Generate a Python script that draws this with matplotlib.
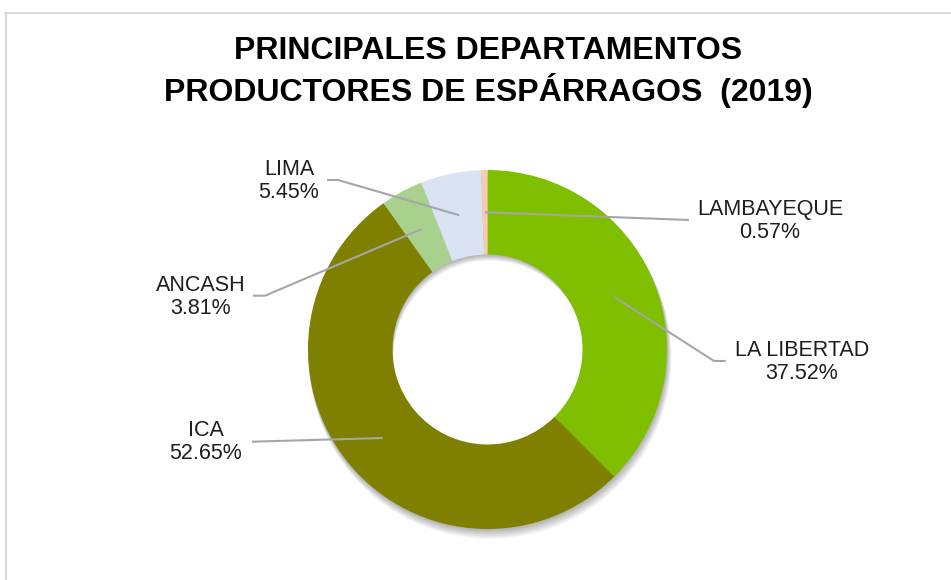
import numpy as np
import matplotlib
matplotlib.use("Agg")
import matplotlib.pyplot as plt
from matplotlib.patches import Wedge
from matplotlib.lines import Line2D

# ---- data ----
departamentos = ["LA LIBERTAD", "ICA", "ANCASH", "LIMA", "LAMBAYEQUE"]
porcentajes = [37.52, 52.65, 3.81, 5.45, 0.57]
colores = ["#7fbf00", "#808000", "#a9d18e", "#dae3f3", "#f8cbad"]
titulo = "PRINCIPALES DEPARTAMENTOS\nPRODUCTORES DE ESPÁRRAGOS  (2019)"

W, H = 951, 580
fig = plt.figure(figsize=(W / 100, H / 100), dpi=100)
fig.patch.set_facecolor("white")
ax = fig.add_axes([0, 0, 1, 1])

CX, CY = 487.5, H - 349.5
R = 179.5
RING = 84.5

# soft shadow (offset downward)
for i in range(1, 10):
    ax.add_patch(Wedge((CX + 0.3 * i, CY - 0.9 * i), R + 0.2 * i, 0, 360,
                       width=RING, facecolor="black", edgecolor="none",
                       alpha=0.035, zorder=1))

wedges, _ = ax.pie(porcentajes, colors=colores, startangle=90, counterclock=False,
                   center=(CX, CY), radius=R,
                   wedgeprops=dict(width=RING, edgecolor="none", zorder=2))
for w in wedges:
    w.set_zorder(2)

# label positions (pixel centres) and elbow points
label_pos = {
    "LA LIBERTAD": (802, 362),
    "ICA": (206, 442),
    "ANCASH": (201, 297),
    "LIMA": (289, 181),
    "LAMBAYEQUE": (770, 221),
}
line_pts = {
    "LA LIBERTAD": [(725.7, 361), (714, 361)],
    "ICA": [(252, 441.7)],
    "ANCASH": [(253, 295.7), (265, 295.7)],
    "LIMA": [(327, 180), (338, 180)],
    "LAMBAYEQUE": [(689, 220)],
}

rmid = R - RING / 2
cum = np.cumsum([0] + porcentajes)
tot = sum(porcentajes)
for i, name in enumerate(departamentos):
    mid = (cum[i] + porcentajes[i] / 2) / tot * 2 * np.pi
    axp = CX + rmid * np.sin(mid)
    ayp = CY + rmid * np.cos(mid)
    pts = [(x, H - y) for x, y in line_pts[name]] + [(axp, ayp)]
    xs, ys = zip(*pts)
    ax.plot(xs, ys, color="#a6a6a6", lw=1.5, zorder=3, solid_capstyle="butt")
    lx, ly = label_pos[name]
    ax.text(lx, H - ly, f"{name}\n{porcentajes[i]:.2f}%", ha="center", va="center",
            fontsize=15.5, family="Liberation Sans", color="#1e1e1e",
            linespacing=1.13, zorder=4)

ax.text(488, H - 72, titulo, ha="center", va="center", fontsize=23,
        fontweight="bold", family="Liberation Sans", color="black",
        linespacing=1.22)

# chart border (partially visible)
ax.add_line(Line2D([5, W], [H - 12.5, H - 12.5], color="#d9d9d9", lw=1.5, zorder=0))
ax.add_line(Line2D([5.5, 5.5], [0, H - 12.5], color="#d9d9d9", lw=1.5, zorder=0))

ax.set_xlim(0, W)
ax.set_ylim(0, H)
ax.set_aspect("equal")
ax.axis("off")

fig.savefig("out.png", dpi=100, facecolor="white")
